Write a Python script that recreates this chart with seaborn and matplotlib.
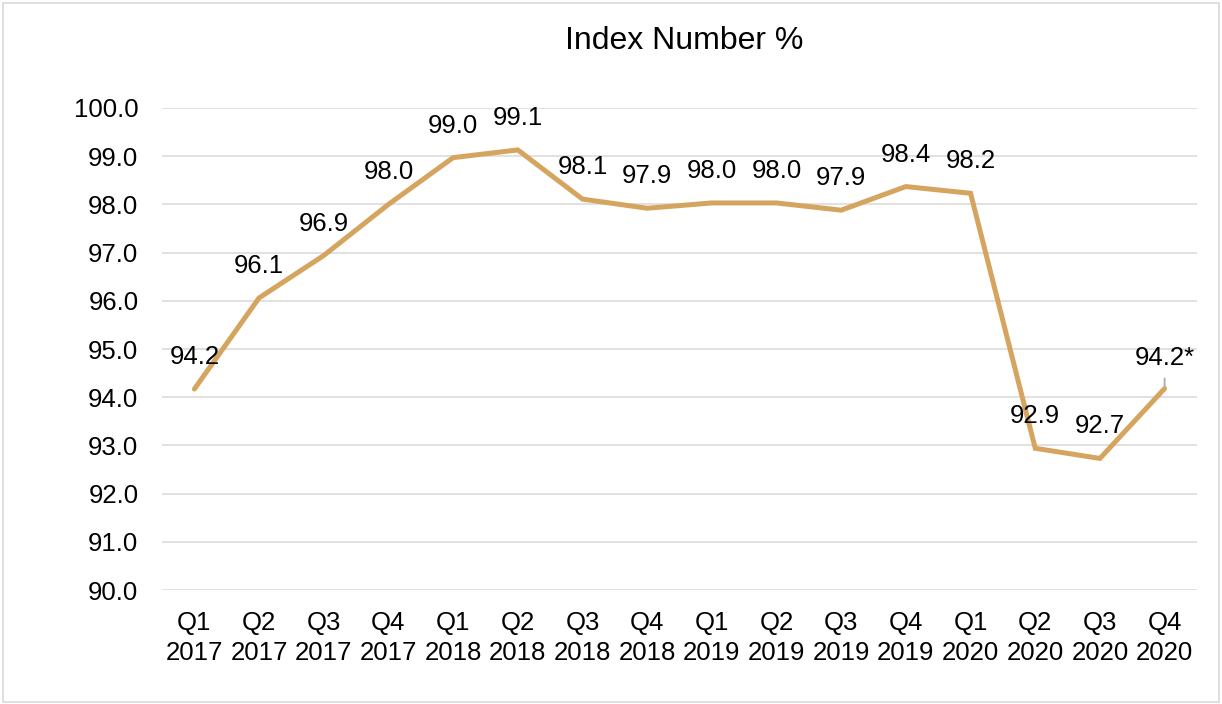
import matplotlib
matplotlib.use("Agg")
import matplotlib.pyplot as plt
import seaborn as sns
import pandas as pd
from matplotlib.patches import Rectangle

quarters = ["Q1\n2017", "Q2\n2017", "Q3\n2017", "Q4\n2017",
            "Q1\n2018", "Q2\n2018", "Q3\n2018", "Q4\n2018",
            "Q1\n2019", "Q2\n2019", "Q3\n2019", "Q4\n2019",
            "Q1\n2020", "Q2\n2020", "Q3\n2020", "Q4\n2020"]
values = [94.17, 96.06, 96.94, 98.0, 98.97, 99.13, 98.11, 97.92,
          98.03, 98.03, 97.88, 98.37, 98.23, 92.94, 92.73, 94.18]
labels = ["94.2", "96.1", "96.9", "98.0", "99.0", "99.1", "98.1", "97.9",
          "98.0", "98.0", "97.9", "98.4", "98.2", "92.9", "92.7", "94.2*"]
yticks = [90.0, 91.0, 92.0, 93.0, 94.0, 95.0, 96.0, 97.0, 98.0, 99.0, 100.0]

sns.set_theme(style="white")
plt.rcParams['font.family'] = ['Liberation Sans', 'DejaVu Sans']

df = pd.DataFrame({"quarter": quarters, "value": values, "pos": range(len(quarters))})

fig = plt.figure(figsize=(12.22, 7.04), dpi=100)
ax = fig.add_axes([0.1326, 0.1619, 0.9795 - 0.1326, 0.8466 - 0.1619])

fs = 18.5
line_color = "#D5A55F"
sns.lineplot(data=df, x="pos", y="value", ax=ax, color=line_color, linewidth=3.6,
             solid_joinstyle="miter", solid_capstyle="round", zorder=3)

ax.set_xlim(-0.5, len(quarters) - 0.5)
ax.set_ylim(90, 100)
ax.set_yticks(yticks)
ax.set_yticklabels([f"{t:.1f}" for t in yticks])
ax.set_xticks(range(len(quarters)))
ax.set_xticklabels(quarters, linespacing=1.3)
ax.tick_params(axis="y", length=0, pad=17, labelsize=fs, colors="black")
ax.tick_params(axis="x", length=0, pad=15, labelsize=fs, colors="black")
ax.set_xlabel("")
ax.set_ylabel("")
ax.yaxis.grid(True, color="#D9D9D9", linewidth=1.1)
ax.xaxis.grid(False)
for s in ax.spines.values():
    s.set_visible(False)

for i, (v, lab) in enumerate(zip(values, labels)):
    if i == len(values) - 1:
        ax.annotate(lab, xy=(i, v), xytext=(i, v + 0.64), ha="center", va="center",
                    fontsize=fs, color="black", zorder=5,
                    arrowprops=dict(arrowstyle="-", color="#B0B0B0", lw=1.4,
                                    shrinkA=4, shrinkB=1,
                                    relpos=(0.5, 0.0)),
                    annotation_clip=False)
    else:
        ax.annotate(lab, xy=(i, v), xytext=(0, 23), textcoords="offset points",
                    ha="center", va="center", fontsize=fs, color="black",
                    annotation_clip=False)

fig.text(684.5 / 1222, 1 - 41 / 704, "Index Number %", ha="center", va="center",
         fontsize=23, color="black")

fig.patches.append(Rectangle((3 / 1222, 2 / 704), 1 - 6 / 1222, 1 - 5 / 704,
                             transform=fig.transFigure, fill=False,
                             edgecolor="#D9D9D9", linewidth=1.2))

fig.savefig("out.png", dpi=100)
